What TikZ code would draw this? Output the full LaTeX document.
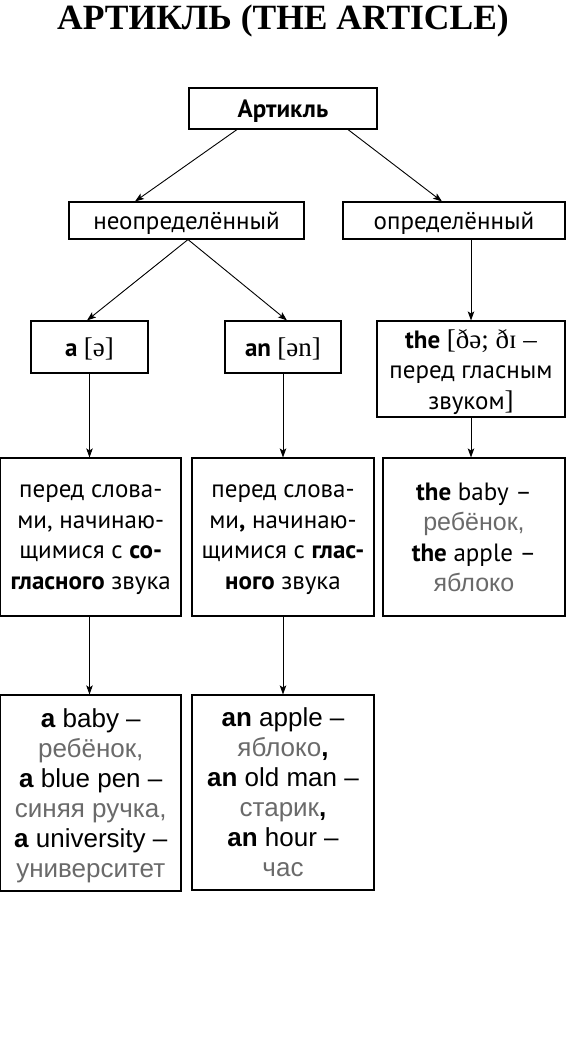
\documentclass[tikz,border=0pt]{standalone}
\usepackage{fontspec}
\setmainfont{Liberation Serif}
\newfontfamily\ptsans{PT Sans}
\newfontfamily\helv{Liberation Sans}
\usetikzlibrary{arrows.meta, positioning}
\definecolor{transl}{HTML}{6A6A6A}
\newcommand{\rusw}[1]{{\color{transl}#1}}
\newcommand{\ipa}[1]{{\rmfamily\mdseries\fontsize{27}{30.5}\selectfont #1}}
\tikzset{
  box/.style = {draw=black, line width=1.1pt, align=center, inner sep=0pt,
    text depth=0pt, font=\ptsans\fontsize{25}{30.5}\selectfont},
  exbox/.style = {box, font=\helv\fontsize{26}{30}\selectfont},
  arr/.style = {-{Stealth[length=9pt, width=6.5pt, inset=2pt]}, line width=0.9pt}
}
\begin{document}
\begin{tikzpicture}[x=1pt, y=-1pt]
\useasboundingbox (0,0) rectangle (566,1061);
\node [anchor=base, font=\bfseries\fontsize{35.5}{36}\selectfont] (title) at (283,29.5)
  {АРТИКЛЬ (THE ARTICLE)};
% first levels
\node [box, minimum width=188pt, minimum height=41pt] (art) at (283,108.5) {\bfseries Артикль};
\node [box, minimum width=235pt, minimum height=37pt] (indef) at (186.5,220.5) {неопределённый};
\node [box, minimum width=222pt, minimum height=37pt] (def) at (454,220.5) {определённый};
\node [box, minimum width=117pt, minimum height=52pt] (a) at (89.5,347) {\bfseries a \ipa{[ə]}};
\node [box, minimum width=116pt, minimum height=52pt] (an) at (283,347) {\bfseries an \ipa{[ən]}};
\node [box, minimum width=188pt, minimum height=96pt] (the) at (471,369)
  {\textbf{the} \ipa{[ðə; ðɪ –}\\перед гласным\\звуком\ipa{]}};
% rules
\node [box, minimum width=180.5pt, minimum height=158pt] (arule) at (90.75,537)
  {перед слова-\\ми, начинаю-\\щимися с \textbf{со-}\\\textbf{гласного} звука};
\node [box, minimum width=182pt, minimum height=158pt] (anrule) at (283,537)
  {перед слова-\\ми\textbf{,} начинаю-\\щимися с \textbf{глас-}\\\textbf{ного} звука};
\node [box, minimum width=182pt, minimum height=158pt] (therule) at (474,537)
  {\textbf{the} baby –\\{\helv\rusw{ребёнок,}}\\\textbf{the} apple –\\{\helv\rusw{яблоко}}};
% examples
\node [exbox, minimum width=180.5pt, minimum height=196pt] (aex) at (90.75,793)
  {\textbf{a} baby –\\\rusw{ребёнок,}\\\textbf{a} blue pen –\\\rusw{синяя ручка,}\\\textbf{a} university –\\\rusw{университет}};
\node [exbox, minimum width=182pt, minimum height=195pt] (anex) at (283,792.5)
  {\textbf{an} apple –\\\rusw{яблоко}\textbf{,}\\\textbf{an} old man –\\\rusw{старик}\textbf{,}\\\textbf{an} hour –\\\rusw{час}};
% arrows
\draw [arr] ([xshift=-46pt]art.south) -- ([xshift=-51.5pt]indef.north);
\draw [arr] ([xshift=65pt]art.south) -- ([xshift=-12pt]def.north);
\draw [arr] ([xshift=1.5pt]indef.south) -- ([xshift=-2.5pt]a.north);
\draw [arr] ([xshift=1.5pt]indef.south) -- ([xshift=4pt]an.north);
\draw [arr] (the.north |- def.south) -- (the.north);
\draw [arr] (a.south) -- (a.south |- arule.north);
\draw [arr] (an.south) -- (an.south |- anrule.north);
\draw [arr] (the.south) -- (the.south |- therule.north);
\draw [arr] (arule.south -| a.south) -- (a.south |- aex.north);
\draw [arr] (anrule.south) -- (anex.north);
\end{tikzpicture}
\end{document}
